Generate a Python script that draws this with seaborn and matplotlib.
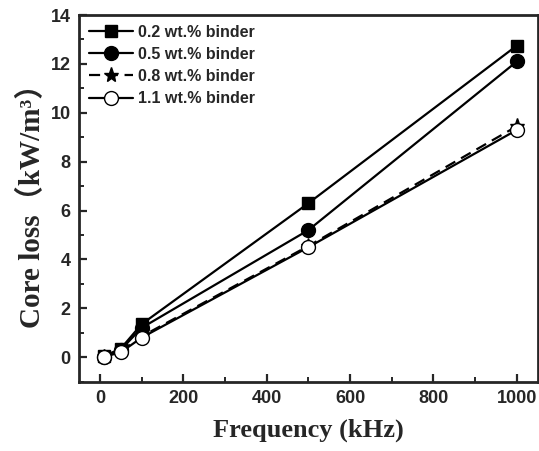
import matplotlib
matplotlib.use("Agg")
import matplotlib.pyplot as plt
import seaborn as sns
import pandas as pd
from matplotlib.ticker import MultipleLocator

freq = [10, 50, 100, 500, 1000]
loss_02 = [0.05, 0.35, 1.35, 6.3, 12.75]
loss_05 = [0.03, 0.3, 1.2, 5.2, 12.1]
loss_08 = [0.02, 0.25, 0.85, 4.55, 9.45]
loss_11 = [0.02, 0.2, 0.8, 4.5, 9.3]
labels = ["0.2 wt.% binder", "0.5 wt.% binder", "0.8 wt.% binder", "1.1 wt.% binder"]

sns.set_style("ticks")
plt.rcParams['font.family'] = ['Liberation Sans', 'DejaVu Sans']

fig = plt.figure(figsize=(5.39, 4.51), dpi=100)
ax = fig.add_axes([0.1466, 0.1537, 0.851, 0.813])

styles = [
    dict(marker="s", mfc="black", ls="-"),
    dict(marker="o", mfc="black", ls="-"),
    dict(marker="*", mfc="black", ls=(0, (5, 3))),
    dict(marker="o", mfc="white", ls="-"),
]
sizes = [9, 10, 11, 10]
for vals, lab, st, ms in zip([loss_02, loss_05, loss_08, loss_11], labels, styles, sizes):
    df = pd.DataFrame({"f": freq, "y": vals})
    sns.lineplot(data=df, x="f", y="y", ax=ax, color="black", lw=1.6,
                 marker=st["marker"], markersize=ms, markerfacecolor=st["mfc"],
                 markeredgecolor="black", markeredgewidth=1.0, linestyle=st["ls"],
                 label=lab)

ax.set_xlim(-50, 1050)
ax.set_ylim(-1, 14)
ax.xaxis.set_major_locator(MultipleLocator(200))
ax.xaxis.set_minor_locator(MultipleLocator(100))
ax.yaxis.set_major_locator(MultipleLocator(2))
ax.yaxis.set_minor_locator(MultipleLocator(1))
ax.tick_params(which="major", direction="in", length=6, width=1.6, labelsize=13, pad=6)
ax.tick_params(which="minor", direction="in", length=3.5, width=1.4)
for lab in ax.get_xticklabels() + ax.get_yticklabels():
    lab.set_fontweight("bold")
for s in ax.spines.values():
    s.set_linewidth(2)
    s.set_visible(True)

ax.set_xlabel("Frequency (kHz)", fontfamily="Liberation Serif", fontweight="bold", fontsize=19, labelpad=8)
ax.set_ylabel("Core loss\uff08kW/m\u00b3\uff09", fontfamily=["Liberation Serif", "Noto Sans CJK SC"],
              fontweight="bold", fontsize=21, labelpad=3)

leg = ax.legend(loc="upper left", frameon=False, fontsize=11.5, handlelength=2.8,
                handletextpad=0.3, labelspacing=0.45, borderaxespad=0.2)
for t in leg.get_texts():
    t.set_fontweight("bold")

fig.savefig("out.png", dpi=100)
